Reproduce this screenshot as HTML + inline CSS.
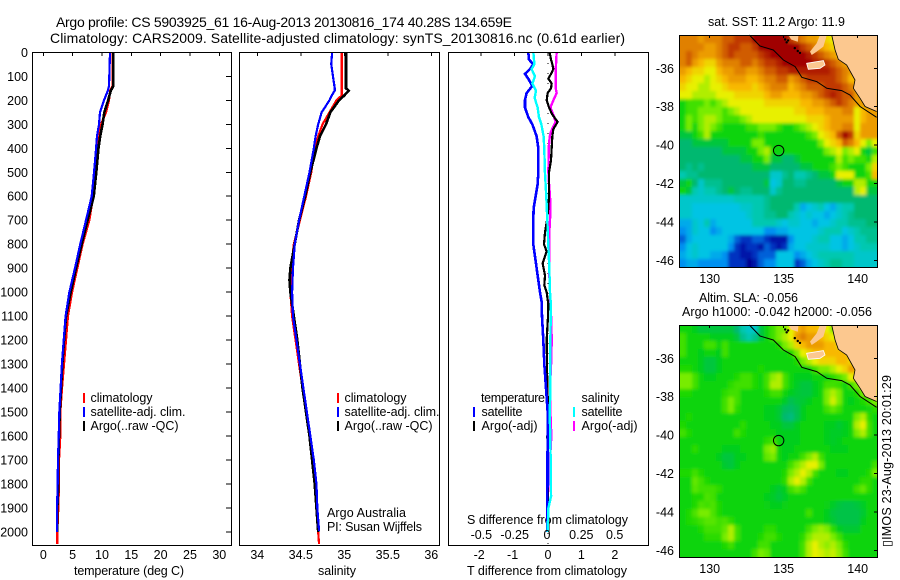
<!DOCTYPE html>
<html>
<head>
<meta charset="utf-8">
<title>Argo profile</title>
<style>
html,body{margin:0;padding:0;background:#fff;width:900px;height:580px;overflow:hidden}
svg{display:block;position:absolute;left:0;top:0}
text{font-family:"Liberation Sans",sans-serif;fill:#000;font-size:12.5px}
</style>
</head>
<body>
<svg id="fig" width="900" height="580" viewBox="0 0 900 580" xmlns="http://www.w3.org/2000/svg">
<defs>
<filter id="soften" x="-5%" y="-5%" width="110%" height="110%"><feGaussianBlur stdDeviation="1.5"/></filter>
<clipPath id="clip-sst"><rect x="680" y="35" width="198" height="232"/></clipPath>
<clipPath id="clip-sla"><rect x="680" y="325" width="198" height="232"/></clipPath>
</defs>
<rect width="900" height="580" fill="#fff"/>
<text x="56" y="27" style="font-size:14px" textLength="456" lengthAdjust="spacing">Argo profile: CS 5903925_61 16-Aug-2013 20130816_174 40.28S 134.659E</text>
<text x="50" y="43" style="font-size:14px" textLength="575" lengthAdjust="spacing">Climatology: CARS2009. Satellite-adjusted climatology: synTS_20130816.nc (0.61d earlier)</text>
<text x="74" y="575" textLength="110" lengthAdjust="spacing">temperature (deg C)</text>
<text x="318" y="575" textLength="38" lengthAdjust="spacing">salinity</text>
<text x="467" y="575" textLength="160" lengthAdjust="spacing">T difference from climatology</text>
<text x="467" y="524" textLength="161" lengthAdjust="spacing">S difference from climatology</text>
<text x="327" y="517" textLength="79" lengthAdjust="spacing">Argo Australia</text>
<text x="327" y="531" textLength="95" lengthAdjust="spacing">PI: Susan Wijffels</text>
<text x="708" y="26" textLength="137" lengthAdjust="spacing">sat. SST: 11.2  Argo: 11.9</text>
<text x="699" y="302" textLength="99" lengthAdjust="spacing">Altim. SLA: -0.056</text>
<text x="682" y="316" textLength="190" lengthAdjust="spacing">Argo h1000: -0.042 h2000: -0.056</text>
<text transform="translate(891,547) rotate(-90)" textLength="172" lengthAdjust="spacing">▯IMOS 23-Aug-2013 20:01:29</text>
</svg>
<script>
var depthTicks=[0,100,200,300,400,500,600,700,800,900,1000,1100,1200,1300,1400,1500,1600,1700,1800,1900,2000];
var tempTicks=[0,5,10,15,20,25,30];
var salTicks=[34,34.5,35,35.5,36];
var salTickLabels=['34','34.5','35','35.5','36'];
var diffTTicks=[-2,-1,0,1,2];
var diffSTicks=[-0.5,-0.25,0,0.25,0.5];
var diffSLabels=['-0.5','-0.25','0','0.25','0.5'];
var lonTicks=[130,135,140];
var latTicks=[36,38,40,42,44,46];

var tempDepths=[0,140,160,200,250,300,350,400,500,600,700,800,900,1000,1100,1200,1300,1400,1500,1600,1700,1800,1900,2000];
var tempClimDepths=[0,140,160,200,250,300,350,400,500,600,700,800,900,1000,1100,1200,1300,1400,1500,1600,1700,1800,1900,2000,2050];
var tempClim=[11.8,11.8,11.4,11.2,10.7,9.84,9.55,9.27,8.93,8.5,7.85,6.7,5.8,4.9,4.2,3.87,3.53,3.19,2.9,2.9,2.68,2.68,2.56,2.39,2.39];
var tempArgo=[11.95,11.95,11.5,11.05,10.4,10.1,9.7,9.4,9.03,8.6,7.56,6.54,5.57,4.67,3.87,3.53,3.24,3.02,2.8,2.68,2.56,2.56,2.39,2.39];
var tempSat=[11.37,11.2,11.0,10.35,9.66,9.5,9.15,9.0,8.65,8.25,7.28,6.3,5.4,4.44,3.8,3.48,3.17,2.95,2.73,2.63,2.5,2.45,2.34,2.34];

var salClimDepths=[0,150,180,200,250,300,350,400,500,600,700,800,900,1000,1100,1200,1300,1400,1500,1600,1700,1800,1900,2000,2050];
var salClim=[34.97,34.97,34.97,34.91,34.83,34.75,34.7,34.66,34.62,34.56,34.49,34.42,34.39,34.38,34.4,34.44,34.48,34.52,34.56,34.6,34.63,34.66,34.686,34.7,34.71];
var salArgoDepths=[0,150,160,180,200,250,300,350,400,500,600,700,800,900,950,1000,1100,1200,1300,1400,1500,1600,1700,1800,1900,2000];
var salArgo=[35.02,35.02,35.05,35.0,34.94,34.84,34.79,34.72,34.68,34.61,34.55,34.48,34.43,34.38,34.37,34.38,34.42,34.46,34.49,34.52,34.56,34.6,34.63,34.66,34.68,34.7];
var salSatDepths=[0,50,100,150,160,180,200,250,300,350,400,500,600,700,800,900,1000,1100,1200,1300,1400,1500,1600,1700,1800,1900,1995];
var salSat=[34.86,34.85,34.87,34.89,34.89,34.855,34.83,34.74,34.7,34.67,34.65,34.6,34.54,34.48,34.43,34.41,34.4,34.41,34.45,34.49,34.53,34.57,34.61,34.65,34.68,34.69,34.71];

var diffTSatDepths=[0,30,50,70,90,110,140,170,200,230,270,300,350,400,500,550,600,650,700,800,850,900,1000,1040,1100,1200,1300,1400,1500,2000];
var diffTSat=[-0.59,-0.57,-0.44,-0.54,-0.69,-0.59,-0.47,-0.64,-0.69,-0.69,-0.59,-0.47,-0.34,-0.29,-0.29,-0.31,-0.37,-0.43,-0.44,-0.44,-0.39,-0.34,-0.24,-0.19,-0.18,-0.14,-0.11,-0.06,-0.01,-0.02];
var diffTArgoDepths=[0,30,50,70,90,110,130,150,170,200,230,260,290,320,350,400,450,500,600,650,700,750,800,830,880,930,970,1000,1050,1100,1200,1300,1400,1500,1600,2000];
var diffTArgo=[0.05,0.09,0.13,0.16,0.09,0.01,0.11,0.09,-0.01,-0.04,0.03,0.13,0.29,0.16,0.13,0.11,0.09,0.03,0.03,0.01,-0.03,-0.09,-0.12,-0.04,-0.16,-0.09,-0.11,-0.04,0.01,0,-0.04,-0.03,-0.02,0.01,-0.02,0.01];
var diffSSatDepths=[0,50,70,100,130,160,190,230,270,300,350,400,500,600,700,800,900,1000,1040,1100,1200,1400,1500,1700,1850,1900,2000];
var diffSSat=[-0.11,-0.102,-0.123,-0.098,-0.117,-0.09,-0.1,-0.078,-0.068,-0.05,-0.033,-0.028,-0.023,-0.013,-0.005,0.002,0.01,0.015,0.02,0.02,0.018,0.018,0.013,0.02,0.023,0.003,-0.003];
var diffSArgoDepths=[0,50,100,150,170,190,210,230,260,290,310,330,350,400,500,550,600,650,700,750,800,900,1000,1040,1100,1200,1300,1400,1500,1600,1700,1800,1900,2000];
var diffSArgo=[0.065,0.06,0.058,0.058,0.065,0.048,0.033,0.018,0.04,0.058,0.04,0.023,0.013,0.005,0.003,0.008,0.015,0.018,0.015,0.01,0.01,0.008,0.015,0.015,0.023,0.028,0.023,0.015,0.018,0.025,0.015,0.003,-0.005,-0.005];

var sstGrid=[
[10,10,10,9.5,10,10,10,10.5,10.5,11,11,11,12,12,12,12,12,12,11,10.5,10,9.5,9.5,9,8.5,8,9,9,9,9,9,9,9],
[10,10,10,10,9.5,9.5,10,10.5,11,11,10.5,10.5,11,12,12,12,12,12,12,12,11,10.5,10,9.5,9,8.5,9,9,9,9,9,9,9],
[10,10.5,10,9.5,9.5,9.5,10,10.5,11,10.5,10.5,10.5,10.5,11,11.5,12,12,12,12,12,12,11.5,11,10.5,10,9.5,9,9,9,9,9,9,9],
[10,10.5,9.5,9,8.5,8.5,9.5,10,10,10,10.5,10.5,10,10.5,11,11,11.5,12,12,12,12,12,11.5,11.5,11,10.5,10,9.5,9,8.5,8.5,8.5,8.5],
[9.5,9,8.5,8.5,8,8,9,9.5,9.5,10,10,9.5,9.5,10,10.5,10.5,11,11,11.5,11.5,11.5,11.5,11.5,11.5,11.5,11,10.5,10,9.5,8.5,8.5,8.5,8.5],
[9,8.5,8,8,7.5,8,8.5,9,9.5,9.5,9.5,9,9,9.5,10,10,10.5,10.5,9.5,10,10.5,11,11,11,11,11,10.5,10,9,9,9,9,9],
[8.5,8,8,7.5,7.5,8,8,8.5,9,9,9,9,8.5,9,9.5,10,10,10,9,9.5,10,10.5,10.5,10.5,11,11,11,10.5,10,9.5,9,9,9],
[8,8,7.5,7.5,7.5,7.5,8,8,8,8.5,8.5,8.5,8.5,8.5,9,9.5,9.5,9,9,9,9.5,9.5,10,10.5,11,11.5,11,10.5,10.5,9.5,9.5,9.5,9.5],
[6,6.5,6.5,6.5,7,6.5,7,7.5,8,8,8,8,8,8,8.5,8.5,8.5,8.5,8.5,8.5,9,9,9.5,9.5,10,10.5,11,10.5,10,9.5,9.5,9.5,9.5],
[6,6.5,6.5,7,7,7,7,6.5,7,7.5,8,8,8,8,8,8,8,8,8,8.5,8.5,9,9,9,9.5,9.5,9.5,10,10,8,9,9.5,9.5],
[6,7,6.5,7,7.5,7.5,7,6.5,6.5,6.5,7,7.5,8,8,8,8,8,8,8,8,8,8.5,8.5,8.5,9,9.5,9.5,9.5,9.5,8,9,9.5,9.5],
[6,7,6,7,7.5,7,6.5,6,6,6,6,6.5,6.5,7,7,7,6.5,6,6,6.5,7,7.5,8,8.5,9,9.5,9.5,10,10,8,9.5,9.5,9.5],
[5.5,5.5,6,6.5,7.5,6,6,6,6,6,6,6,6,6.5,6,6,6,6,6,6,6,6.5,7,8,8.5,9,10.5,12,11,8.5,9.5,9.5,9.5],
[5,5,5.5,5.5,5.5,5.5,5.5,5.5,6,6,6,6,7,7,6,6,6,6,6,6,6,6,6,7,8,8.5,9,10.5,10,9,8,7,8],
[5,5,5,5,5,5,5,5.5,5.5,5.5,5.5,6,6,7,7.5,6,6,6,6,6,6,6,6,6,7,7.5,8,7,7.5,8,6,5.5,6.5],
[5,5,5,5,5,5,5,5,5,5,5.5,5.5,6,6,7,5.5,5.5,5,5,5.5,6,6,6,6,6,6,7.5,6.5,7,6.5,6.5,6,7.5],
[5,4.5,5,4.5,5,5,5,5,5,5,5,5,5.5,5.5,5.5,5,5,5,5,5,5.5,5.5,6,6,6,6.5,7,6.5,6,6,6,7,8.5],
[4,4.5,4.5,5,5,5,5,5,5,5,5,5,5,5,5,3.5,3.5,4.5,5,4,4,4.5,5,5.5,5.5,6,8,8,8,6,6,6.5,9],
[5.5,6,5,3.5,4.5,4.5,4.5,5,5,5,5,5,5,5,5.5,3,3.5,5,5,4.5,4.5,5,5,5,5,5,5.5,6,6,7.5,7.5,6,6],
[6,5.5,4,3.5,4,4,4.5,5,5.5,5,4.5,4.5,5,5,5,3.5,4.5,5,5,5,5,5,5,5,5,5,5,5,5,7.5,8,5.5,5.5],
[3.5,3.5,3.5,3.5,3.5,3.5,3.5,3.5,3.5,4,4,4,4,4,4.5,5,5,5,5,5,5,5,5,5,5,5,5,5,5,5,5,5,5],
[3.5,3.5,3,3,3,3,3,3,3,3,3.5,3.5,4,4,4.5,5,5,5,5,4,2.5,3,3.5,4,3,2.5,3.5,4,4,5,5,5,5],
[3.5,3.5,3,3,3,3,3,3,3,3,3,3.5,4,4,4.5,4.5,5,5,4,3.5,3,3.5,3,3,2.5,3,3.5,4,4.5,5,5,5,5],
[2.5,2.5,3.5,3,4,2.5,3,3,3,3,3,3,4,4,4,4,3.5,3,3.5,3.5,3,3,2.5,3,3,3.5,4,4,4.5,4.5,4.5,5,5],
[2,2.5,3.5,3,3,2,2.5,3,3,3,3,3,3,3,2,2,2.5,2.5,3,3,3,3,3,3.5,4,4,4,3,3.5,4,4.5,4.5,4.5],
[1.5,2.5,3,3,3,3,3,3,2.5,1.5,1,1,1.5,1.5,1,0.5,0.5,0.5,2,3,3,3,3.5,4,4,3,3,2.5,3,4,4,4.5,4.5],
[2,3,3.5,3,3,3,3,3,2,1,0.5,1,1,0.5,1.5,1,0.5,1,2.5,3,3,3.5,3.5,3.5,3.5,3,3,2.5,3,3.5,4,4,4],
[2.5,3,3.5,3,3,2.5,2.5,2,1,1,0.5,0.5,1,1.5,1.5,1.5,3,3,3,2,2.5,3,3.5,4,4,4,4,4,4,3.5,3.5,3.5,3.5],
[2,2.5,2.5,2,2,2,2,2,1,1,1,0,0.5,1.5,2,2,3,3,3,1,1.5,2.5,3,3.5,4,4.5,4.5,4,4,3.5,3.5,3.5,3.5]
];
var slaGrid=[
[6,6,5.8,5.5,5.5,5.5,5.5,5.5,5.5,5,4,3.5,3.5,5.5,6,6.5,7,7,8,9,9.5,9,9,8.5,8,7,7,7,7,7,7,7,7],
[6.5,6,6,6,6,5.8,5.8,5.8,5.8,5.5,4.5,4,4.5,5.5,6,6.5,7,7.5,8,9.5,10,9.5,9.5,9,8.5,8,7.5,7.5,7.5,7.5,7.5,7.5,7.5],
[6.5,6,6,6,6.5,6.5,6,6.5,6,6,6,6,6,6,6,6,6.2,7,7.5,8.5,9,9.5,9.5,9.5,9,9,8.5,8.5,8.5,8.5,8.5,8.5,8.5],
[6.5,6,6,5.8,6,6,5.8,6.5,6,6,6,6,6,6,6,6,6,6,6.2,7,8,8.5,9,9,9,9,9,9,8.5,8.5,8.5,8.5,8.5],
[6,6,6,5.8,5.5,5.5,5.8,6,6,6,6,6,6,6,6,6,6,6,6,6.2,7,7.5,8,8.5,8.5,8.5,9,9,8.5,8.5,8.5,8.5,8.5],
[6.2,6.2,6,5.8,5.5,5.5,5.8,6,6,6,6,6,6,6.2,6,6,6,6,6,6,6,6,6.5,7,7,7.5,8,8.5,9.5,9,9,9,9],
[7,7,6.5,6,5.8,5.8,6,6,6,6.2,6.5,6.5,6.2,6,6.5,7.2,7.5,6.5,6,5.8,5.8,5.8,6,6,6,6.3,6.6,7,8,8.5,8.5,8.5,8.5],
[7,7,6.5,6,6,6,6,6,6.3,6.5,6.5,6.5,6.2,6,6.5,7.5,7.5,6.5,6,5.7,5.5,5.5,5.8,6,6.5,6.5,6.4,6,6.5,7,8,8,8],
[6.2,6.2,6,6,6,6,6,6.3,6.5,6.5,6,6,6,6,6.2,6.5,6.5,6,5.8,5.6,5.5,5.5,5.8,6,7,7.5,7,6,6,6.2,7,7.5,7.5],
[6,6,6,6,6,6,6,6.5,7,6.5,6,6,6,6,6,6,6,5.7,5.3,5.5,5.6,5.8,6,6,7,7.8,7,6,5.8,6,6.2,6.5,7],
[6,6,6,6,6,6,6,6.5,7,6.3,6,6,6,6,5.8,5.8,5.6,5.2,5.1,5.3,5.8,6,6,6,6.5,6.8,6.5,6,6,6,6,6.1,6.3],
[6,6.2,6,6,6,6,6,6,6,6,6,6,6,6,5.8,5.8,5.6,5,4.8,5.3,5.8,6,6,6,6,6,6,6,6,7,7.5,6.3,6],
[6.2,6,6,6,6,6,6,6,6,6,6.3,6,6,6,6,5.8,5.8,5.5,5.5,5.8,6,6,6,6,5.8,5.8,5.6,5.8,6,7.5,8,6.5,6],
[6.5,6.2,6,6,6,6,6,6,6,6.5,6.2,6,6,6,6,6,5.8,5.8,5.8,5.8,6,6,6,6,5.8,5.7,5.7,5.8,6,7,7.5,6.5,6],
[6,6,6,6,6,6,6,6,6,6,6,6,6,6,6.3,6.5,6,5.8,5.8,5.8,6,6,6,6,5.8,5.7,5.8,6,6,6,6,6,6],
[6,6,6.3,6,6,6,6,5.8,5.8,5.8,6,6,6,6,7,7.3,6,5.8,5.8,6,6,6,6,6,6,5.8,5.8,5.8,6,6,6,6,6],
[6,6,6,6,6,6,5.8,5.5,5.5,5.8,5.8,6,6,6,6.8,7,6,5.8,6,6,6.5,7,7.5,6.5,6,6,6,6,6,6,6,6,6],
[6,6,6,6,6,6,6,5.6,5.5,5.8,6,6,6,6,6,6,6,6,6.5,7,7.5,8,8,7,6,6,6,6,6,6,6,6,6.5],
[6.2,6.2,6.5,6.2,6,6,6,6,6,6,6,6,6,6,6,6,6,6.2,7,7.5,8,7.5,6.5,6,6,6,5.8,5.8,6,6,6,6.2,7],
[6,6,6.8,6.5,6.2,6,6,6,6,6,6,6,6,6,6,6,6,6.3,7.5,8,7.5,6.5,6,6,6,6,6,6,6,6,6.3,6.3,6],
[6,6,6.7,6.5,6.5,6.5,6.3,6,6,6,6,6,6,6,6,5.8,5.6,5.8,6.5,6.8,6.5,6,6,6,6,6,6,6,6,6.5,6.8,6.3,6],
[6,6,6.2,6.2,6.6,6.5,6,6,6,6,6,6,6,6,5.8,5.7,5.5,5.7,6,6,6,6,6,6,6,6,6,6,6,6,6,6,6],
[6,6,6.2,6.6,6.5,6.6,6.2,6,6,6,6,6,6,6,5.9,5.8,5.8,5.9,6,6,6,6,6,6,5.9,5.7,5.5,5.4,5.4,5.5,5.7,6,6],
[6,6.2,6.6,7,7,6.6,6.2,6,6,6,6,6,6,6,6,6,6,6,6,6,6,6.5,6,6,5.8,5.5,5.4,5.4,5.4,5.4,5.6,6,6],
[6,6.2,6.3,6.5,6.7,6.7,6.5,6.6,6.3,6,6,6,6,6,6,6,6,6,6,6,6,6,6,6,5.8,5.6,5.4,5.4,5.4,5.4,5.8,6,6],
[6,6,6,6.2,6.5,6.5,6.5,6.8,7.5,6.5,6,6,6,6,6.3,6.3,6,6,6,6,6,6.5,7,7.3,7,6.3,5.8,5.6,5.6,5.6,6,6,6],
[6,6,6,6,6.3,6.3,6.3,7,7.5,6.5,6,6,6,6.2,6.5,6.5,6.2,6,6,6,6.3,7,7.5,7.5,7.5,7,6.5,6,6,6,6,6,6],
[6,6,6,6,6,6,6,6.2,6.5,6,6,6,6,6.5,6.5,6,6,6,6,6,6.5,7.5,8,7.5,7.2,7.5,7,6.3,6,6,6,6,6],
[6,6,6,6,6,6,6,6,6,6,6,6,6.5,7,6.8,6,6,6,6,6,6.5,7.5,8,7.8,7.5,7.7,7.2,6.5,6,6,6,6,6]
];

var isobathLon=[132.68,133.4,134.3,134.98,135.77,136.22,137.23,137.91,138.92,139.48,140.16,141.28];
var isobathLat=[34.27,34.84,35.05,35.57,35.91,36.47,36.69,37.04,37.16,37.39,37.99,38.55];
var mainlandLon=[138.24,138.47,138.69,139.26,139.82,139.71,140.16,140.5,141.28,141.33];
var mainlandLat=[34.27,35.05,35.53,35.83,36.61,37.04,37.56,37.99,38.25,34.27];
var yorkeLon=[137.45,137.91,137.68,137.23,136.89,136.78,137.23];
var yorkeLat=[34.27,34.27,34.87,35.13,35.31,35.13,34.7];
var eyreLon=[135.32,136.0,135.95,135.5];
var eyreLat=[34.27,34.27,34.62,34.5];
var kangarooLon=[136.55,137.68,137.79,137.45,136.66];
var kangarooLat=[35.74,35.6,35.83,36.0,36.05];
var speckLon=[135.1,135.2,135.3,135.75,135.95,136.1];
var speckLat=[34.5,34.65,34.55,34.95,35.1,35.2];
var floatLon=134.659;
var floatLat=40.28;

var levelColors=[[0,0,144],[0,48,192],[0,144,240],[0,196,228],[0,200,176],[0,184,112],[8,212,8],[120,236,0],[232,240,0],[248,184,0],[224,128,0],[192,56,0],[160,0,0]];

var svg=document.getElementById('fig');
var NS='http://www.w3.org/2000/svg';
function mk(tag,attrs,parent){
  var e=document.createElementNS(NS,tag);
  for(var k in attrs){e.setAttribute(k,attrs[k]);}
  (parent||svg).appendChild(e);
  return e;
}
function lbl(str,x,y,anchor,size){
  var t=mk('text',{x:x,y:y,'text-anchor':anchor||'middle'});
  if(size){t.style.fontSize=size+'px';}
  t.textContent=str;
  
  
  return t;
}
function tick(x1,y1,x2,y2){
  var l=mk('line',{x1:x1,y1:y1,x2:x2,y2:y2,stroke:'#000','stroke-width':1,'shape-rendering':'crispEdges'});
  
  
}
function frame(x,y,w,h,name){
  var r=mk('rect',{x:x,y:y,width:w,height:h,fill:'none',stroke:'#000','stroke-width':1,'shape-rendering':'crispEdges'});
  
  
}
var yDepth=function(d){return 52.3+0.2399*d;};
var xTemp=function(t){return 43.3+5.867*t;};
var xSal=function(s){return 257.3+87*(s-34);};
var xDT=function(t){return 548+33.4*t;};
var xDS=function(s){return 548+133.3*s;};

function profile(depths,vals,xf,color,w,name){
  var pts=[];
  for(var i=0;i<vals.length;i++){pts.push(xf(vals[i]).toFixed(2)+','+Math.min(yDepth(depths[i]),545).toFixed(2));}
  var p=mk('polyline',{points:pts.join(' '),fill:'none',stroke:color,'stroke-width':w,'shape-rendering':'crispEdges','stroke-linejoin':'miter'});
  
  
}

/* temperature panel */
profile(tempClimDepths,tempClim,xTemp,'#ff0000',2.2,'temperature-climatology-line');
profile(tempDepths,tempArgo,xTemp,'#000000',2.6,'temperature-argo-line');
profile(tempDepths,tempSat,xTemp,'#0000ff',2.2,'temperature-satellite-line');
frame(32.5,52.5,199,493,'temperature-plot-frame');
depthTicks.forEach(function(d){
  tick(231,yDepth(d),226,yDepth(d));
  lbl(String(d),28,yDepth(d)+4.5,'end');
});
tempTicks.forEach(function(t){
  tick(xTemp(t),52,xTemp(t),56);
  lbl(String(t),xTemp(t),559);
});

/* salinity panel */
profile(salClimDepths,salClim,xSal,'#ff0000',2.2,'salinity-climatology-line');
profile(salArgoDepths,salArgo,xSal,'#000000',2.6,'salinity-argo-line');
profile(salSatDepths,salSat,xSal,'#0000ff',2.2,'salinity-satellite-line');
frame(239.5,52.5,200,493,'salinity-plot-frame');
salTicks.forEach(function(s,i){
  tick(xSal(s),52,xSal(s),56);
  lbl(salTickLabels[i],xSal(s),559);
});

/* difference panel */
var zero=mk('line',{x1:548,y1:53,x2:548,y2:545,stroke:'#000','stroke-width':1,'stroke-dasharray':'1 9','shape-rendering':'crispEdges'});


profile(diffSArgoDepths,diffSArgo,xDS,'#ff00ff',2.4,'salinity-argo-difference-line');
profile(diffTArgoDepths,diffTArgo,xDT,'#000000',2.2,'temperature-argo-difference-line');
profile(diffTSatDepths,diffTSat,xDT,'#0000ff',2.6,'temperature-satellite-difference-line');
profile(diffSSatDepths,diffSSat,xDS,'#00ffff',2.4,'salinity-satellite-difference-line');
frame(448.5,52.5,200,493,'difference-plot-frame');
diffTTicks.forEach(function(t){
  tick(xDT(t),52,xDT(t),56);
  lbl(String(t),xDT(t)-(t<0?2:0),559);
});
diffSTicks.forEach(function(s,i){
  lbl(diffSLabels[i],xDS(s)-(s===0?1:0),539);
});

/* legends */
function legend(x,y1,y2,color,text,tx,tw,name){
  var l=mk('line',{x1:x,y1:y1,x2:x,y2:y2,stroke:color,'stroke-width':2,'shape-rendering':'crispEdges'});
  
  
  var t=mk('text',{x:tx,y:y2-1,textLength:tw,lengthAdjust:'spacing'});
  t.textContent=text;
  
  
}
legend(84,393,403,'#ff0000','climatology',90.5,62,'temp-legend-climatology');
legend(84,407,417,'#0000ff','satellite-adj. clim.',90.5,95,'temp-legend-satellite');
legend(84,421,431,'#000000','Argo(..raw -QC)',90.5,88,'temp-legend-argo');
legend(338,393,403,'#ff0000','climatology',344.5,62,'sal-legend-climatology');
legend(338,407,417,'#0000ff','satellite-adj. clim.',344.5,95,'sal-legend-satellite');
legend(338,421,431,'#000000','Argo(..raw -QC)',344.5,88,'sal-legend-argo');
var lt1=mk('text',{x:481,y:402,textLength:64,lengthAdjust:'spacing'});
lt1.textContent='temperature';


var lt2=mk('text',{x:581.5,y:402,textLength:38,lengthAdjust:'spacing'});
lt2.textContent='salinity';


legend(474,407,417,'#0000ff','satellite',481.5,41,'diff-legend-t-satellite');
legend(474,421,431,'#000000','Argo(-adj)',481.5,56,'diff-legend-t-argo');
legend(574,407,417,'#00ffff','satellite',581.5,41,'diff-legend-s-satellite');
legend(574,421,431,'#ff00ff','Argo(-adj)',581.5,56,'diff-legend-s-argo');

/* maps */
function colorFor(v){
  var i=Math.max(0,Math.min(levelColors.length-2,Math.floor(v)));
  var f=Math.max(0,Math.min(1,v-i));
  var a=levelColors[i],b=levelColors[i+1];
  return 'rgb('+Math.round(a[0]+(b[0]-a[0])*f)+','+Math.round(a[1]+(b[1]-a[1])*f)+','+Math.round(a[2]+(b[2]-a[2])*f)+')';
}
function drawMap(grid,top,name,clipId){
  var xLon=function(l){return 709.7+14.8*(l-130);};
  var yLat=function(l){return top+33.3+19.22*(l-36);};
  var rowsN=grid.length;
  var rowH=232/rowsN;
  var clipG=mk('g',{'clip-path':'url(#'+clipId+')'});
  
  
  var softG=mk('g',{filter:'url(#soften)'},clipG);
  
  
  grid.forEach(function(row,r){
    row.forEach(function(v,c){
      var y0=Math.round(top+r*rowH),y1=Math.round(top+(r+1)*rowH);
      var x0=680+c*6,x1=x0+6;
      if(c===0){x0-=10;}
      if(c===row.length-1){x1+=10;}
      if(r===0){y0-=10;}
      if(r===rowsN-1){y1+=10;}
      var cell=mk('rect',{x:x0,y:y0,width:x1-x0,height:y1-y0,fill:colorFor(v),'shape-rendering':'crispEdges'},softG);
      
      
    });
  });
  function poly(lons,lats,closed,attrs,nm){
    var pts=lons.map(function(l,i){return xLon(l).toFixed(1)+','+yLat(lats[i]).toFixed(1);}).join(' ');
    attrs.points=pts;
    var p=mk(closed?'polygon':'polyline',attrs);
    
    
  }
  var landFill='#fcc88f';
  poly(mainlandLon,mainlandLat,true,{fill:landFill},name+'-mainland');
  poly(yorkeLon,yorkeLat,true,{fill:landFill},name+'-yorke-peninsula');
  poly(eyreLon,eyreLat,true,{fill:landFill},name+'-eyre-peninsula');
  poly(kangarooLon,kangarooLat,true,{fill:landFill,stroke:'#fff','stroke-width':0.8},name+'-kangaroo-island');
  poly(mainlandLon.slice(0,9),mainlandLat.slice(0,9),false,{fill:'none',stroke:'#000','stroke-width':0.8},name+'-coastline');
  poly(isobathLon,isobathLat,false,{fill:'none',stroke:'#000','stroke-width':1},name+'-isobath');
  speckLon.forEach(function(l,i){
    var s=mk('circle',{cx:xLon(l),cy:yLat(speckLat[i]),r:1.2,fill:'#000'});
    
    
  });
  var m=mk('circle',{cx:xLon(floatLon),cy:yLat(floatLat),r:5.2,fill:'none',stroke:'#000','stroke-width':1});
  
  
  frame(679.5,top+0.5,198,232,name+'-frame');
  lonTicks.forEach(function(l){
    tick(xLon(l),top,xLon(l),top+3);
    lbl(String(l),xLon(l),top+248);
  });
  latTicks.forEach(function(l){
    tick(877,yLat(l),874,yLat(l));
    lbl('-'+l,674,yLat(l)+4.5,'end');
  });
}
drawMap(sstGrid,35,'sst-map','clip-sst');
drawMap(slaGrid,325,'sla-map','clip-sla');
</script>
</body>
</html>
